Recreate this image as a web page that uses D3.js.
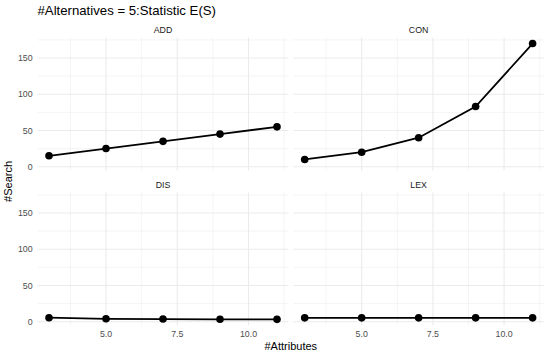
<!DOCTYPE html>
<html>
<head>
<meta charset="utf-8">
<script src="https://cdn.jsdelivr.net/npm/d3@7"></script>
<style>
  body { margin: 0; background: #fff; }
  text { font-family: "Liberation Sans", Arial, sans-serif; }
</style>
</head>
<body>
<div id="chart"></div>
<script>
// data
var attributes = [3, 5, 7, 9, 11];
var strategies = ['ADD', 'CON', 'DIS', 'LEX'];
var searchADD = [15, 25, 35, 45, 55];
var searchCON = [10, 20, 40, 83, 170];
var searchDIS = [5.5, 4, 3.6, 3.3, 3.2];
var searchLEX = [5.3, 5.3, 5.3, 5.3, 5.3];
var xTicks = [5, 7.5, 10];
var yTicks = [0, 50, 100, 150];
var titleText = '#Alternatives = 5:Statistic E(S)';

var series = {ADD: searchADD, CON: searchCON, DIS: searchDIS, LEX: searchLEX};

var width = 550, height = 354;
var svg = d3.select('#chart').append('svg')
    .attr('width', width)
    .attr('height', height);

// ggplot style 5% expansion on both axes
function expand(ext) {
    var d = (ext[1] - ext[0]) * 0.05;
    return [ext[0] - d, ext[1] + d];
}
var allY = d3.merge(strategies.map(function (s) { return series[s]; }));

var cols = [[37.6, 288.4], [293.3, 544]];
var rows = [[37.5, 170.4], [192.5, 325.4]];

var grid = '#ebebeb';

strategies.forEach(function (name, i) {
    var c = cols[i % 2], r = rows[Math.floor(i / 2)];
    var x = d3.scaleLinear().domain(expand(d3.extent(attributes))).range(c);
    var y = d3.scaleLinear().domain(expand(d3.extent(allY))).range([r[1], r[0]]);
    var g = svg.append('g');

    // minor grid
    var xMinor = [3.75, 6.25, 8.75, 11.25];
    var yMinor = [25, 75, 125, 175];
    g.selectAll('.xm').data(xMinor).enter().append('line')
        .attr('x1', d => x(d)).attr('x2', d => x(d))
        .attr('y1', r[0]).attr('y2', r[1])
        .attr('stroke', grid).attr('stroke-width', 0.55);
    g.selectAll('.ym').data(yMinor).enter().append('line')
        .attr('x1', c[0]).attr('x2', c[1])
        .attr('y1', d => y(d)).attr('y2', d => y(d))
        .attr('stroke', grid).attr('stroke-width', 0.55);
    // major grid
    g.selectAll('.xM').data(xTicks).enter().append('line')
        .attr('x1', d => x(d)).attr('x2', d => x(d))
        .attr('y1', r[0]).attr('y2', r[1])
        .attr('stroke', grid).attr('stroke-width', 1.1);
    g.selectAll('.yM').data(yTicks).enter().append('line')
        .attr('x1', c[0]).attr('x2', c[1])
        .attr('y1', d => y(d)).attr('y2', d => y(d))
        .attr('stroke', grid).attr('stroke-width', 1.1);

    // strip label
    g.append('text')
        .attr('x', (c[0] + c[1]) / 2).attr('y', r[0] - 5)
        .attr('text-anchor', 'middle')
        .attr('font-size', 8.8)
        .attr('fill', '#1a1a1a')
        .text(name);

    // y tick labels only on left column
    if (i % 2 === 0) {
        g.selectAll('.yl').data(yTicks).enter().append('text')
            .attr('x', c[0] - 5).attr('y', d => y(d) + 3.2)
            .attr('text-anchor', 'end')
            .attr('font-size', 8.8)
            .attr('fill', '#4d4d4d')
            .text(d => d);
    }
    // x tick labels only on bottom row
    if (i >= 2) {
        g.selectAll('.xl').data(xTicks).enter().append('text')
            .attr('x', d => x(d)).attr('y', r[1] + 11.5)
            .attr('text-anchor', 'middle')
            .attr('font-size', 8.8)
            .attr('fill', '#4d4d4d')
            .text(d => d3.format('.1f')(d));
    }

    var pts = attributes.map(function (a, k) { return [a, series[name][k]]; });
    var line = d3.line().x(d => x(d[0])).y(d => y(d[1]));
    g.append('path')
        .attr('d', line(pts))
        .attr('fill', 'none')
        .attr('stroke', '#000')
        .attr('stroke-width', 1.8);
    g.selectAll('circle').data(pts).enter().append('circle')
        .attr('cx', d => x(d[0])).attr('cy', d => y(d[1]))
        .attr('r', 3.8)
        .attr('fill', '#000');
});

// titles
svg.append('text')
    .attr('x', 37.5).attr('y', 15)
    .attr('font-size', 13.2)
    .attr('fill', '#000')
    .text(titleText);

svg.append('text')
    .attr('x', (cols[0][0] + cols[1][1]) / 2).attr('y', 349.5)
    .attr('text-anchor', 'middle')
    .attr('font-size', 11)
    .attr('fill', '#000')
    .text('#Attributes');

svg.append('text')
    .attr('transform', 'translate(12,' + ((rows[0][0] + rows[1][1]) / 2) + ') rotate(-90)')
    .attr('text-anchor', 'middle')
    .attr('font-size', 11)
    .attr('fill', '#000')
    .text('#Search');
</script>
</body>
</html>
